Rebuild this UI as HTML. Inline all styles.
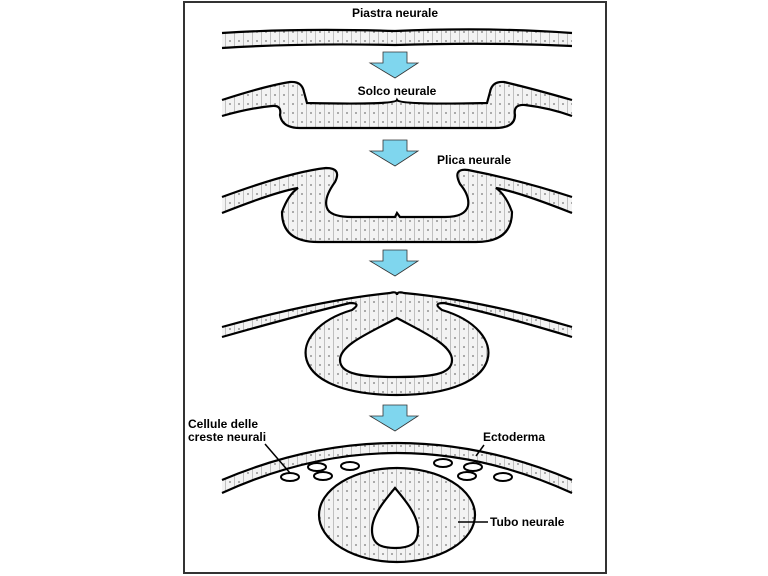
<!DOCTYPE html>
<html><head><meta charset="utf-8"><style>
html,body{margin:0;padding:0;background:#fff;}
svg{display:block;}
text{font-family:"Liberation Sans",sans-serif;font-weight:bold;font-size:12px;fill:#000;}
</style></head><body>
<svg width="768" height="576" viewBox="0 0 768 576" xmlns="http://www.w3.org/2000/svg">
<defs>
<pattern id="cells" width="9" height="9" patternUnits="userSpaceOnUse">
<rect width="9" height="9" fill="#f3f3f3"/>
<line x1="0.5" y1="0" x2="0.5" y2="9" stroke="#aaa" stroke-width="0.7"/>
<circle cx="5" cy="5" r="0.9" fill="#777"/>
</pattern>
</defs>
<rect x="184" y="2" width="422" height="571" fill="#fff" stroke="#333" stroke-width="2"/>

<text x="395" y="17" text-anchor="middle">Piastra neurale</text>
<!-- stage 1 -->
<path d="M222,33 Q300,28 395,31 Q490,27 572,33 L572,46 Q490,42 395,45 Q300,43 222,48 Z" fill="url(#cells)"/>
<path d="M222,33 Q300,28 395,31 Q490,27 572,33" fill="none" stroke="#000" stroke-width="2.2"/>
<path d="M222,48 Q300,43 395,45 Q490,42 572,46" fill="none" stroke="#000" stroke-width="2.2"/>

<g fill="#7fd6ee" stroke="#333" stroke-width="0.8">
<polygon points="383,52 407,52 407,63 418,63 395,78 370,63 383,63"/>
<polygon points="383,140 407,140 407,151 418,151 395,166 370,151 383,151"/>
<polygon points="383,250 407,250 407,261 418,261 395,276 370,261 383,261"/>
<polygon points="383,405 407,405 407,416 418,416 395,431 370,416 383,416"/>
</g>

<!-- stage 2 -->
<path d="M222,100 Q265,86 290,82 Q302,81 304,92 L307,103 Q395,105 397,100 Q400,105 487,103 L490,92 Q492,81 504,82 Q530,88 572,100 L572,116 Q550,108 525,105 Q513,104 515,115 Q515,128 495,128 L300,128 Q282,128 280,115 Q282,105 272,106 Q250,108 222,116 Z" fill="url(#cells)"/>
<path d="M222,100 Q265,86 290,82 Q302,81 304,92 L307,103 Q395,105 397,100 Q400,105 487,103 L490,92 Q492,81 504,82 Q530,88 572,100" fill="none" stroke="#000" stroke-width="2.2"/>
<path d="M222,116 Q250,108 272,106 Q282,105 280,115 Q282,128 300,128 L495,128 Q515,128 515,115 Q513,104 525,105 Q550,108 572,116" fill="none" stroke="#000" stroke-width="2.2"/>
<text x="397" y="95" text-anchor="middle">Solco neurale</text>

<text x="437" y="164">Plica neurale</text>
<!-- stage 3 -->
<path d="M222,197 Q290,172 326,168 Q342,168 335,182 Q322,200 328,210 Q333,217 352,217 L395,217 L397,213 L400,217 L445,217 Q465,217 468,206 Q470,196 460,184 Q452,168 468,170 Q520,180 572,197 L572,213 Q519,192 496,188 Q506,195 512,212 Q512,242 476,242 L318,242 Q282,242 282,212 Q288,195 298,188 Q275,192 222,213 Z" fill="url(#cells)"/>
<path d="M222,197 Q290,172 326,168 Q342,168 335,182 Q322,200 328,210 Q333,217 352,217 L395,217 L397,213 L400,217 L445,217 Q465,217 468,206 Q470,196 460,184 Q452,168 468,170 Q520,180 572,197" fill="none" stroke="#000" stroke-width="2.2"/>
<path d="M222,213 Q275,192 298,188 Q288,195 282,212 Q282,242 318,242 L476,242 Q512,242 512,212 Q506,195 496,188 Q519,192 572,213" fill="none" stroke="#000" stroke-width="2.2"/>

<!-- stage 4 -->
<path d="M222,327 Q320,300 390,293 Q397,291 397,295 Q397,291 404,293 Q480,300 572,327 L572,337 Q500,315 444,303 Q432,303 442,310 C510,330 510,395 397,395 C284,395 284,330 352,310 Q362,303 350,303 Q300,315 222,337 Z" fill="url(#cells)"/>
<path d="M222,327 Q320,300 390,293 Q397,291 397,295 Q397,291 404,293 Q480,300 572,327" fill="none" stroke="#000" stroke-width="2.2"/>
<path d="M222,337 Q300,315 350,303 Q362,303 352,310 C284,330 284,395 397,395 C510,395 510,330 442,310 Q432,303 444,303 Q500,315 572,337" fill="none" stroke="#000" stroke-width="2.2"/>
<path d="M397,318 C425,333 452,345 452,360 C452,375 430,377 397,377 C364,377 340,375 340,360 C340,345 369,333 397,318 Z" fill="#fff" stroke="#000" stroke-width="2.2"/>

<!-- stage 5 -->
<path d="M222,480 Q397,406 572,480 L572,493 Q397,413 222,493 Z" fill="url(#cells)"/>
<path d="M222,480 Q397,406 572,480" fill="none" stroke="#000" stroke-width="2.2"/>
<path d="M222,493 Q397,413 572,493" fill="none" stroke="#000" stroke-width="2.2"/>
<g fill="#fff" stroke="#000" stroke-width="2">
<ellipse cx="290" cy="477" rx="9" ry="4"/>
<ellipse cx="317" cy="467" rx="9" ry="4"/>
<ellipse cx="323" cy="476" rx="9" ry="4"/>
<ellipse cx="350" cy="466" rx="9" ry="4"/>
<ellipse cx="443" cy="463" rx="9" ry="4"/>
<ellipse cx="473" cy="467" rx="9" ry="4"/>
<ellipse cx="467" cy="476" rx="9" ry="4"/>
<ellipse cx="503" cy="477" rx="9" ry="4"/>
</g>
<ellipse cx="397" cy="515" rx="78" ry="47" fill="url(#cells)" stroke="#000" stroke-width="2.2"/>
<path d="M395,488 C405,500 418,515 418,530 C418,545 408,548 395,548 C382,548 372,545 372,530 C372,515 385,500 395,488 Z" fill="#fff" stroke="#000" stroke-width="2.2"/>

<text x="188" y="428">Cellule delle</text>
<text x="188" y="441">creste neurali</text>
<line x1="265" y1="444" x2="290" y2="473" stroke="#000" stroke-width="1.5"/>
<text x="483" y="441">Ectoderma</text>
<line x1="484" y1="445" x2="476" y2="456" stroke="#000" stroke-width="1.5"/>
<text x="490" y="526">Tubo neurale</text>
<line x1="458" y1="522" x2="488" y2="522" stroke="#000" stroke-width="1.5"/>
</svg>
</body></html>
